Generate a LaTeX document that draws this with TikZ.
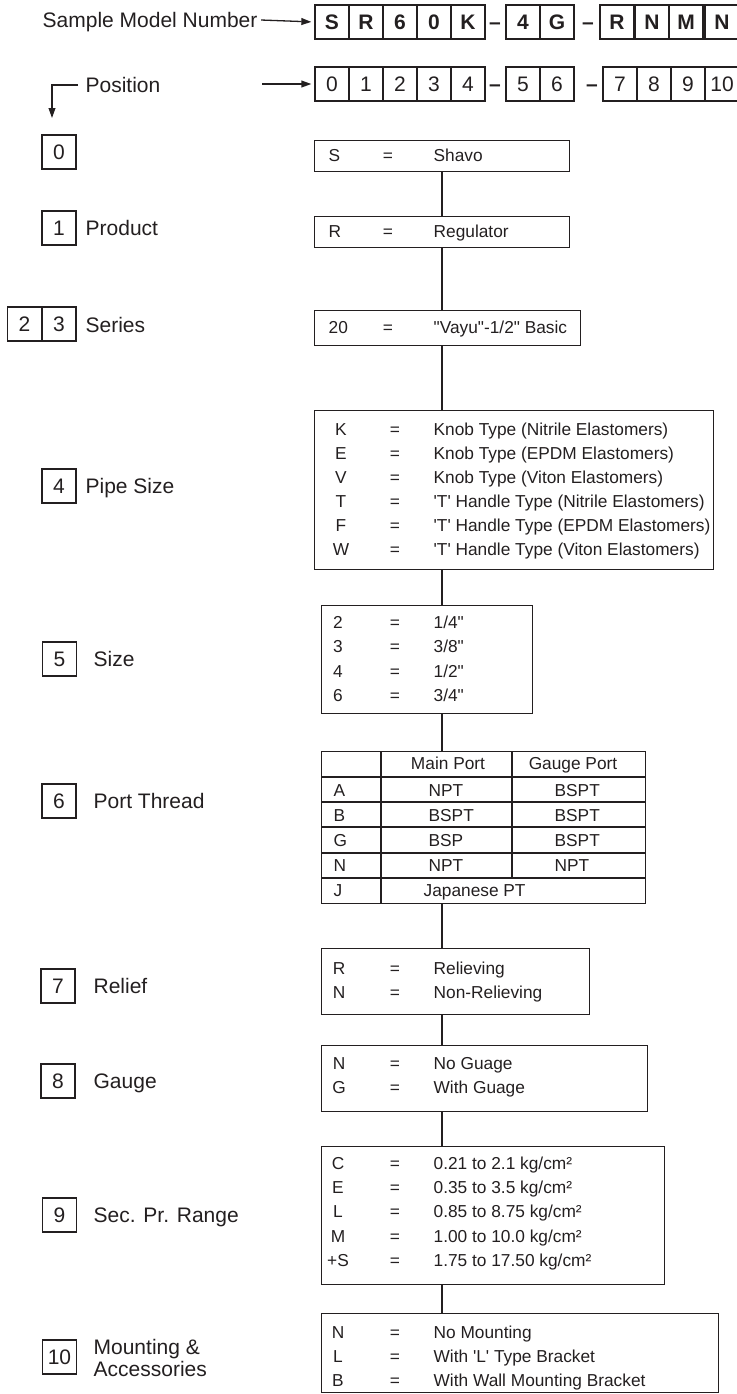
\documentclass[tikz,border=0pt]{standalone}
\usepackage{fontspec}
\setmainfont{Liberation Sans}
\usetikzlibrary{arrows.meta}
\definecolor{ink}{RGB}{35,31,32}
\newcommand{\lblfont}{\fontsize{10.5}{12.6}\selectfont}
\newcommand{\valfont}{\fontsize{8.65}{10.4}\selectfont}

\begin{document}
\begin{tikzpicture}[x=0.5pt, y=-0.5pt, line width=0.65pt, color=ink,
		lbl/.style={font=\lblfont, inner sep=0pt, text height=7.5pt, text depth=0pt},
		val/.style={font=\valfont, inner sep=0pt, text height=6.2pt, text depth=0pt},
		cell/.style={draw, font=\lblfont, minimum width=17pt, minimum height=17pt,
			inner sep=0pt, text height=7.5pt, text depth=0pt},
		codebox/.style={draw, anchor=north west, inner sep=0pt},
		arr/.style={-{Stealth[length=5pt, width=3.4pt, inset=0pt]}}
		]
	\useasboundingbox (0,0) rectangle (737,1394);

	% model number and positions
	\node [lbl, anchor=west, inner sep=1.5pt] (smn) at (39,20) {Sample Model Number};
	\foreach \x/\c [count=\i] in {332/S,366/R,400/6,434/0,468/K,523/4,557/G,617/R,652/N,686/M,722/N}
		\node [cell, font=\lblfont\bfseries] (m\i) at (\x,22) {\c};
	\node [lbl, font=\lblfont\bfseries] (dm1) at (495,22) {--};
	\node [lbl, font=\lblfont\bfseries] (dm2) at (588,22) {--};
	\draw [arr, shorten >=1.5pt] (smn.east) -- (m1.west);

	\foreach \x/\c [count=\i] in {332/0,366/1,400/2,434/3,468/4,523/5,557/6,620/7,654/8,688/9,722/10}
		\node [cell] (p\i) at (\x,84) {\c};
	\node [lbl, font=\lblfont\bfseries] (dp1) at (495,84) {--};
	\node [lbl, font=\lblfont\bfseries] (dp2) at (592,84) {--};
	\coordinate (pstart) at (262,84);
	\draw [arr, shorten >=1.5pt] (pstart) -- (p1.west);

	\node [lbl, anchor=west, inner sep=3.5pt] (pos) at (78,85) {Position};
	\coordinate (pend) at (52,118);
	\draw [arr] (pos.west) -| (pend);

	% left column
	\foreach \n/\x/\y in {0/59/152, 1/59/228, 2/24.5/324, 3/59/324, 4/59/486, 5/59.5/659,
			6/59/801, 7/58/986, 8/58/1081, 9/59.5/1215, 10/59.5/1357}
		\node [cell] (k\n) at (\x,\y) {\n};
	\foreach \x/\y/\t [count=\i] in {85/228/Product, 85/325/Series, 85/486/Pipe Size, 93/659/Size,
			93/801/Port Thread, 93/986/Relief, 93/1081/Gauge, 93/1215/Sec. Pr. Range,
			93/1347/Mounting \&, 93/1369/Accessories}
		\node [lbl, anchor=west] (t\i) at (\x,\y) {\t};

	% code boxes
	\node [codebox, minimum width=127.5pt, minimum height=15.5pt] (shavo) at (314,140) {};
	\node [codebox, minimum width=127.5pt, minimum height=15.5pt] (regul) at (314,216) {};
	\node [codebox, minimum width=133pt, minimum height=17.5pt] (series) at (314,310) {};
	\node [codebox, minimum width=199.5pt, minimum height=79.5pt] (knob) at (314,410) {};
	\node [codebox, minimum width=105.5pt, minimum height=54pt] (size) at (321,605) {};
	\node [codebox, minimum width=162pt, minimum height=76pt] (port) at (321,751) {};
	\node [codebox, minimum width=134pt, minimum height=33pt] (relief) at (321,948) {};
	\node [codebox, minimum width=163pt, minimum height=33pt] (gauge) at (321,1045) {};
	\node [codebox, minimum width=171.5pt, minimum height=69pt] (range) at (321,1146) {};
	\node [codebox, minimum width=198.5pt, minimum height=39.5pt] (mount) at (321,1313) {};

	\coordinate (spine) at (442,0);
	\foreach \a/\b in {shavo/regul, regul/series, series/knob, knob/size, size/port,
			port/relief, relief/gauge, gauge/range, range/mount}
		\draw (\a.south -| spine) -- (\b.north -| spine);

	\foreach \y/\k/\v [count=\i] in {155.5/S/Shavo, 231.5/R/Regulator,
			327.5/20/{\textquotedbl Vayu\textquotedbl-1/2\textquotedbl\ Basic}} {
		\node [val, anchor=west] (sk\i) at (328,\y) {\k};
		\node [val] (se\i) at (388,\y) {=};
		\node [val, anchor=west] (sv\i) at (433,\y) {\v};
	}

	\foreach \k/\v [count=\i] in {K/Knob Type (Nitrile Elastomers), E/Knob Type (EPDM Elastomers),
			V/Knob Type (Viton Elastomers),
			T/\textquotesingle T\textquotesingle\ Handle Type (Nitrile Elastomers),
			F/\textquotesingle T\textquotesingle\ Handle Type (EPDM Elastomers),
			W/\textquotesingle T\textquotesingle\ Handle Type (Viton Elastomers)} {
		\node [val] (kk\i) at (341,405+24*\i) {\k};
		\node [val] (ke\i) at (395,405+24*\i) {=};
		\node [val, anchor=west] (kv\i) at (433,405+24*\i) {\v};
	}

	\foreach \k/\v [count=\i] in {2/{1/4\textquotedbl}, 3/{3/8\textquotedbl},
			4/{1/2\textquotedbl}, 6/{3/4\textquotedbl}} {
		\node [val] (zk\i) at (338,597.5+24.5*\i) {\k};
		\node [val] (ze\i) at (395,597.5+24.5*\i) {=};
		\node [val, anchor=west] (zv\i) at (433,597.5+24.5*\i) {\v};
	}

	% port thread table
	\foreach \y in {777,802,827,853,878}
		\draw (321,\y) -- (645,\y);
	\draw (381,751) -- (381,903);
	\draw (512,751) -- (512,878);
	\node [val] (hmain) at (448,763) {Main Port};
	\node [val] (hgauge) at (573,763) {Gauge Port};
	\foreach \k/\a/\b [count=\i] in {A/NPT/BSPT, B/BSPT/BSPT, G/BSP/BSPT, N/NPT/NPT} {
		\node [val, anchor=west] (pk\i) at (333,764.5+25.3*\i) {\k};
		\node [val, anchor=west] (pa\i) at (428,764.5+25.3*\i) {\a};
		\node [val, anchor=west] (pb\i) at (554,764.5+25.3*\i) {\b};
	}
	\node [val, anchor=west] (pk5) at (333,890) {J};
	\node [val, anchor=west] (pa5) at (423,890) {Japanese PT};

	\foreach \k/\v [count=\i] in {R/Relieving, N/Non-Relieving} {
		\node [val] (rk\i) at (339,944+24*\i) {\k};
		\node [val] (re\i) at (395,944+24*\i) {=};
		\node [val, anchor=west] (rv\i) at (433,944+24*\i) {\v};
	}

	\foreach \k/\v [count=\i] in {N/No Guage, G/With Guage} {
		\node [val] (gk\i) at (339,1039+24*\i) {\k};
		\node [val] (ge\i) at (395,1039+24*\i) {=};
		\node [val, anchor=west] (gv\i) at (433,1039+24*\i) {\v};
	}

	\foreach \k/\v [count=\i] in {C/{0.21 to 2.1 kg/cm²}, E/{0.35 to 3.5 kg/cm²},
			L/{0.85 to 8.75 kg/cm²}, M/{1.00 to 10.0 kg/cm²}, +S/{1.75 to 17.50 kg/cm²}} {
		\node [val] (ak\i) at (338,1139+24.25*\i) {\k};
		\node [val] (ae\i) at (395,1139+24.25*\i) {=};
		\node [val, anchor=west] (av\i) at (433,1139+24.25*\i) {\v};
	}

	\foreach \k/\v [count=\i] in {N/No Mounting,
			L/With \textquotesingle L\textquotesingle\ Type Bracket, B/With Wall Mounting Bracket} {
		\node [val] (bk\i) at (338,1308+24*\i) {\k};
		\node [val] (be\i) at (395,1308+24*\i) {=};
		\node [val, anchor=west] (bv\i) at (433,1308+24*\i) {\v};
	}
\end{tikzpicture}
\end{document}
